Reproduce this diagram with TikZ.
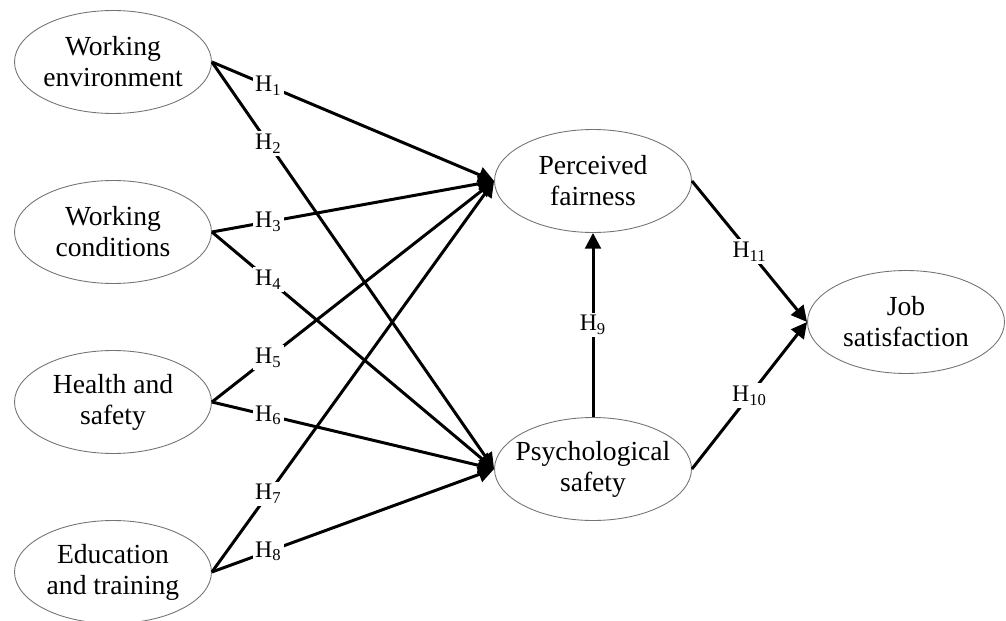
\documentclass[tikz,border=0pt]{standalone}
\usepackage{fontspec}
\setmainfont{Liberation Serif}
\usetikzlibrary{shapes.geometric,arrows.meta}
\tikzset{
  construct/.style={ellipse, draw=black!55, line width=0.5pt, minimum width=3.94cm, minimum height=2.06cm,
    inner xsep=-0.3cm, inner ysep=0pt, align=center, font=\fontsize{15.7}{17.6}\selectfont},
  hyp/.style={fill=white, inner sep=1.5pt, font=\fontsize{13.5}{15}\selectfont},
  link/.style={line width=1.7pt, -{Triangle[length=9pt,width=9pt]}}
}
\begin{document}
\begin{tikzpicture}[x=0.02cm,y=-0.02cm]
                \useasboundingbox (0,0) rectangle (1006,621);
                \node[construct] (we) at (113,62) {Working\\environment};
                \node[construct] (wc) at (113,232) {Working\\conditions};
                \node[construct] (hs) at (113,402) {Health and\\safety};
                \node[construct] (et) at (113,572) {Education\\and training};
                \node[construct] (pf) at (593,181) {Perceived\\fairness};
                \node[construct] (ps) at (593,469) {Psychological\\safety};
                \node[construct] (js) at (906,322) {Job\\satisfaction};
                \draw[link] (we.east) -- node[hyp, pos=0.2] {H\textsubscript{1}} (pf.west);
                \draw[link] (we.east) -- node[hyp, pos=0.2] {H\textsubscript{2}} (ps.west);
                \draw[link] (wc.east) -- node[hyp, pos=0.2] {H\textsubscript{3}} (pf.west);
                \draw[link] (wc.east) -- node[hyp, pos=0.2] {H\textsubscript{4}} (ps.west);
                \draw[link] (hs.east) -- node[hyp, pos=0.2] {H\textsubscript{5}} (pf.west);
                \draw[link] (hs.east) -- node[hyp, pos=0.2] {H\textsubscript{6}} (ps.west);
                \draw[link] (et.east) -- node[hyp, pos=0.2] {H\textsubscript{7}} (pf.west);
                \draw[link] (et.east) -- node[hyp, pos=0.2] {H\textsubscript{8}} (ps.west);
                \draw[link] (ps.north) -- node[hyp] {H\textsubscript{9}} (pf.south);
                \draw[link] (ps.east) -- node[hyp] {H\textsubscript{10}} (js.west);
                \draw[link] (pf.east) -- node[hyp] {H\textsubscript{11}} (js.west);
            \end{tikzpicture}
\end{document}
